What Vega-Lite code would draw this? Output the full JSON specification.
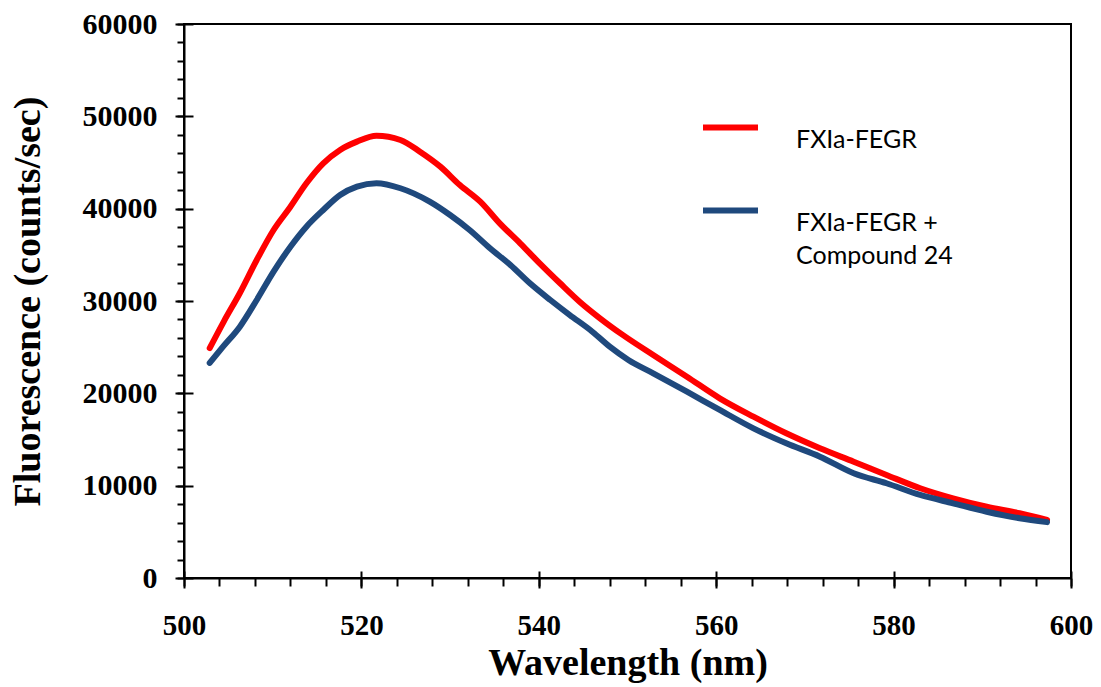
{
  "$schema": "https://vega.github.io/schema/vega-lite/v6.json",
  "width": 887,
  "height": 554,
  "autosize": "none",
  "padding": {"left": 184, "top": 24, "right": 30, "bottom": 109},
  "background": "white",
  "config": {
    "view": {"stroke": "black", "strokeWidth": 2},
    "axis": {"grid": false, "tickColor": "black", "tickWidth": 2, "domainColor": "black", "domainWidth": 2, "labelColor": "black", "titleColor": "black", "labelFont": "Liberation Serif", "titleFont": "Liberation Serif", "labelFontWeight": "bold", "titleFontWeight": "bold", "labelFlush": false},
    "style": {"guide-label": {"lineHeight": 33}}
  },
  "data": {"values": [
    {"w": 502.9, "v": 24900, "s": "FXIa-FEGR"},
    {"w": 504.5, "v": 27800, "s": "FXIa-FEGR"},
    {"w": 506.3, "v": 30870, "s": "FXIa-FEGR"},
    {"w": 508.2, "v": 34440, "s": "FXIa-FEGR"},
    {"w": 510.1, "v": 37690, "s": "FXIa-FEGR"},
    {"w": 512.0, "v": 40210, "s": "FXIa-FEGR"},
    {"w": 513.8, "v": 42750, "s": "FXIa-FEGR"},
    {"w": 515.7, "v": 44910, "s": "FXIa-FEGR"},
    {"w": 517.6, "v": 46360, "s": "FXIa-FEGR"},
    {"w": 519.5, "v": 47260, "s": "FXIa-FEGR"},
    {"w": 521.7, "v": 47900, "s": "FXIa-FEGR"},
    {"w": 524.4, "v": 47440, "s": "FXIa-FEGR"},
    {"w": 526.6, "v": 46170, "s": "FXIa-FEGR"},
    {"w": 528.9, "v": 44550, "s": "FXIa-FEGR"},
    {"w": 531.1, "v": 42560, "s": "FXIa-FEGR"},
    {"w": 533.4, "v": 40760, "s": "FXIa-FEGR"},
    {"w": 535.6, "v": 38410, "s": "FXIa-FEGR"},
    {"w": 537.9, "v": 36250, "s": "FXIa-FEGR"},
    {"w": 540.1, "v": 34080, "s": "FXIa-FEGR"},
    {"w": 542.4, "v": 31920, "s": "FXIa-FEGR"},
    {"w": 544.6, "v": 29930, "s": "FXIa-FEGR"},
    {"w": 546.9, "v": 28130, "s": "FXIa-FEGR"},
    {"w": 549.5, "v": 26300, "s": "FXIa-FEGR"},
    {"w": 552.9, "v": 24150, "s": "FXIa-FEGR"},
    {"w": 556.7, "v": 21800, "s": "FXIa-FEGR"},
    {"w": 560.4, "v": 19460, "s": "FXIa-FEGR"},
    {"w": 564.2, "v": 17470, "s": "FXIa-FEGR"},
    {"w": 567.9, "v": 15670, "s": "FXIa-FEGR"},
    {"w": 571.7, "v": 14050, "s": "FXIa-FEGR"},
    {"w": 575.5, "v": 12600, "s": "FXIa-FEGR"},
    {"w": 579.2, "v": 11160, "s": "FXIa-FEGR"},
    {"w": 583.0, "v": 9720, "s": "FXIa-FEGR"},
    {"w": 586.7, "v": 8630, "s": "FXIa-FEGR"},
    {"w": 590.5, "v": 7720, "s": "FXIa-FEGR"},
    {"w": 594.2, "v": 7010, "s": "FXIa-FEGR"},
    {"w": 597.3, "v": 6280, "s": "FXIa-FEGR"},
    {"w": 502.9, "v": 23300, "s": "FXIa-FEGR + Compound 24"},
    {"w": 504.4, "v": 25050, "s": "FXIa-FEGR + Compound 24"},
    {"w": 506.3, "v": 27220, "s": "FXIa-FEGR + Compound 24"},
    {"w": 508.2, "v": 30110, "s": "FXIa-FEGR + Compound 24"},
    {"w": 510.1, "v": 33180, "s": "FXIa-FEGR + Compound 24"},
    {"w": 512.0, "v": 35880, "s": "FXIa-FEGR + Compound 24"},
    {"w": 513.8, "v": 38050, "s": "FXIa-FEGR + Compound 24"},
    {"w": 515.7, "v": 39860, "s": "FXIa-FEGR + Compound 24"},
    {"w": 517.6, "v": 41480, "s": "FXIa-FEGR + Compound 24"},
    {"w": 519.5, "v": 42380, "s": "FXIa-FEGR + Compound 24"},
    {"w": 521.7, "v": 42750, "s": "FXIa-FEGR + Compound 24"},
    {"w": 524.4, "v": 42210, "s": "FXIa-FEGR + Compound 24"},
    {"w": 527.7, "v": 40760, "s": "FXIa-FEGR + Compound 24"},
    {"w": 530.0, "v": 39310, "s": "FXIa-FEGR + Compound 24"},
    {"w": 532.2, "v": 37690, "s": "FXIa-FEGR + Compound 24"},
    {"w": 534.5, "v": 35710, "s": "FXIa-FEGR + Compound 24"},
    {"w": 536.8, "v": 33900, "s": "FXIa-FEGR + Compound 24"},
    {"w": 539.0, "v": 31920, "s": "FXIa-FEGR + Compound 24"},
    {"w": 541.3, "v": 30110, "s": "FXIa-FEGR + Compound 24"},
    {"w": 543.5, "v": 28480, "s": "FXIa-FEGR + Compound 24"},
    {"w": 545.8, "v": 26860, "s": "FXIa-FEGR + Compound 24"},
    {"w": 548.0, "v": 25050, "s": "FXIa-FEGR + Compound 24"},
    {"w": 550.1, "v": 23610, "s": "FXIa-FEGR + Compound 24"},
    {"w": 552.9, "v": 22170, "s": "FXIa-FEGR + Compound 24"},
    {"w": 556.7, "v": 20180, "s": "FXIa-FEGR + Compound 24"},
    {"w": 560.4, "v": 18200, "s": "FXIa-FEGR + Compound 24"},
    {"w": 564.2, "v": 16210, "s": "FXIa-FEGR + Compound 24"},
    {"w": 567.9, "v": 14590, "s": "FXIa-FEGR + Compound 24"},
    {"w": 571.7, "v": 13140, "s": "FXIa-FEGR + Compound 24"},
    {"w": 575.5, "v": 11340, "s": "FXIa-FEGR + Compound 24"},
    {"w": 579.2, "v": 10260, "s": "FXIa-FEGR + Compound 24"},
    {"w": 583.0, "v": 8990, "s": "FXIa-FEGR + Compound 24"},
    {"w": 586.7, "v": 8090, "s": "FXIa-FEGR + Compound 24"},
    {"w": 590.5, "v": 7180, "s": "FXIa-FEGR + Compound 24"},
    {"w": 594.2, "v": 6470, "s": "FXIa-FEGR + Compound 24"},
    {"w": 597.3, "v": 6050, "s": "FXIa-FEGR + Compound 24"}
  ]},
  "resolve": {"axis": {"x": "independent", "y": "independent"}},
  "layer": [
    {
      "mark": {"type": "point", "opacity": 0},
      "encoding": {
        "x": {"field": "w", "type": "quantitative", "scale": {"domain": [500, 600], "nice": false, "zero": false},
              "axis": {"orient": "bottom", "values": [500,504,508,512,516,520,524,528,532,536,540,544,548,552,556,560,564,568,572,576,580,584,588,592,596,600], "tickSize": 8, "labels": false, "domain": false, "title": null}},
        "y": {"field": "v", "type": "quantitative", "scale": {"domain": [0, 60000], "nice": false},
              "axis": {"orient": "left", "values": [0,2000,4000,6000,8000,10000,12000,14000,16000,18000,20000,22000,24000,26000,28000,30000,32000,34000,36000,38000,40000,42000,44000,46000,48000,50000,52000,54000,56000,58000,60000], "tickSize": 7, "labels": false, "domain": false, "title": null}}
      }
    },
    {
      "mark": {"type": "point", "opacity": 0},
      "encoding": {
        "x": {"field": "w", "type": "quantitative",
              "axis": {"orient": "bottom", "values": [500,520,540,560,580,600], "tickSize": -7, "labels": false, "domain": false, "title": null}},
        "y": {"field": "v", "type": "quantitative",
              "axis": {"orient": "left", "values": [0,10000,20000,30000,40000,50000,60000], "tickSize": -9, "labels": false, "domain": false, "title": null}}
      }
    },
    {
      "mark": {"type": "line", "strokeWidth": 6, "strokeCap": "round", "strokeJoin": "round", "interpolate": "monotone"},
      "encoding": {
        "x": {"field": "w", "type": "quantitative",
              "axis": {"orient": "bottom", "values": [500,520,540,560,580,600], "format": "d", "tickSize": 10, "labelFontSize": 29, "labelPadding": 23, "title": "Wavelength (nm)", "titleFontSize": 38, "titlePadding": 4}},
        "y": {"field": "v", "type": "quantitative",
              "axis": {"orient": "left", "values": [0,10000,20000,30000,40000,50000,60000], "format": "d", "tickSize": 9, "labelFontSize": 30, "labelPadding": 18, "title": "Fluorescence (counts/sec)", "titleFontSize": 38, "titlePadding": 35}},
        "color": {"field": "s", "type": "nominal",
                  "scale": {"domain": ["FXIa-FEGR", "FXIa-FEGR + Compound 24"], "range": ["#FF0000", "#1F497D"]},
                  "legend": {"title": null, "orient": "none", "legendX": 516, "legendY": 73, "padding": 0,
                             "symbolType": "stroke", "symbolSize": 3025, "symbolStrokeWidth": 6,
                             "labelFont": "Lato", "labelFontSize": 25, "labelColor": "black", "labelOffset": 35, "labelBaseline": "top", "labelLimit": 300,
                             "rowPadding": 27,
                             "labelExpr": "datum.label == 'FXIa-FEGR + Compound 24' ? ['FXIa-FEGR +', 'Compound 24'] : datum.label"}}
      }
    }
  ]
}
